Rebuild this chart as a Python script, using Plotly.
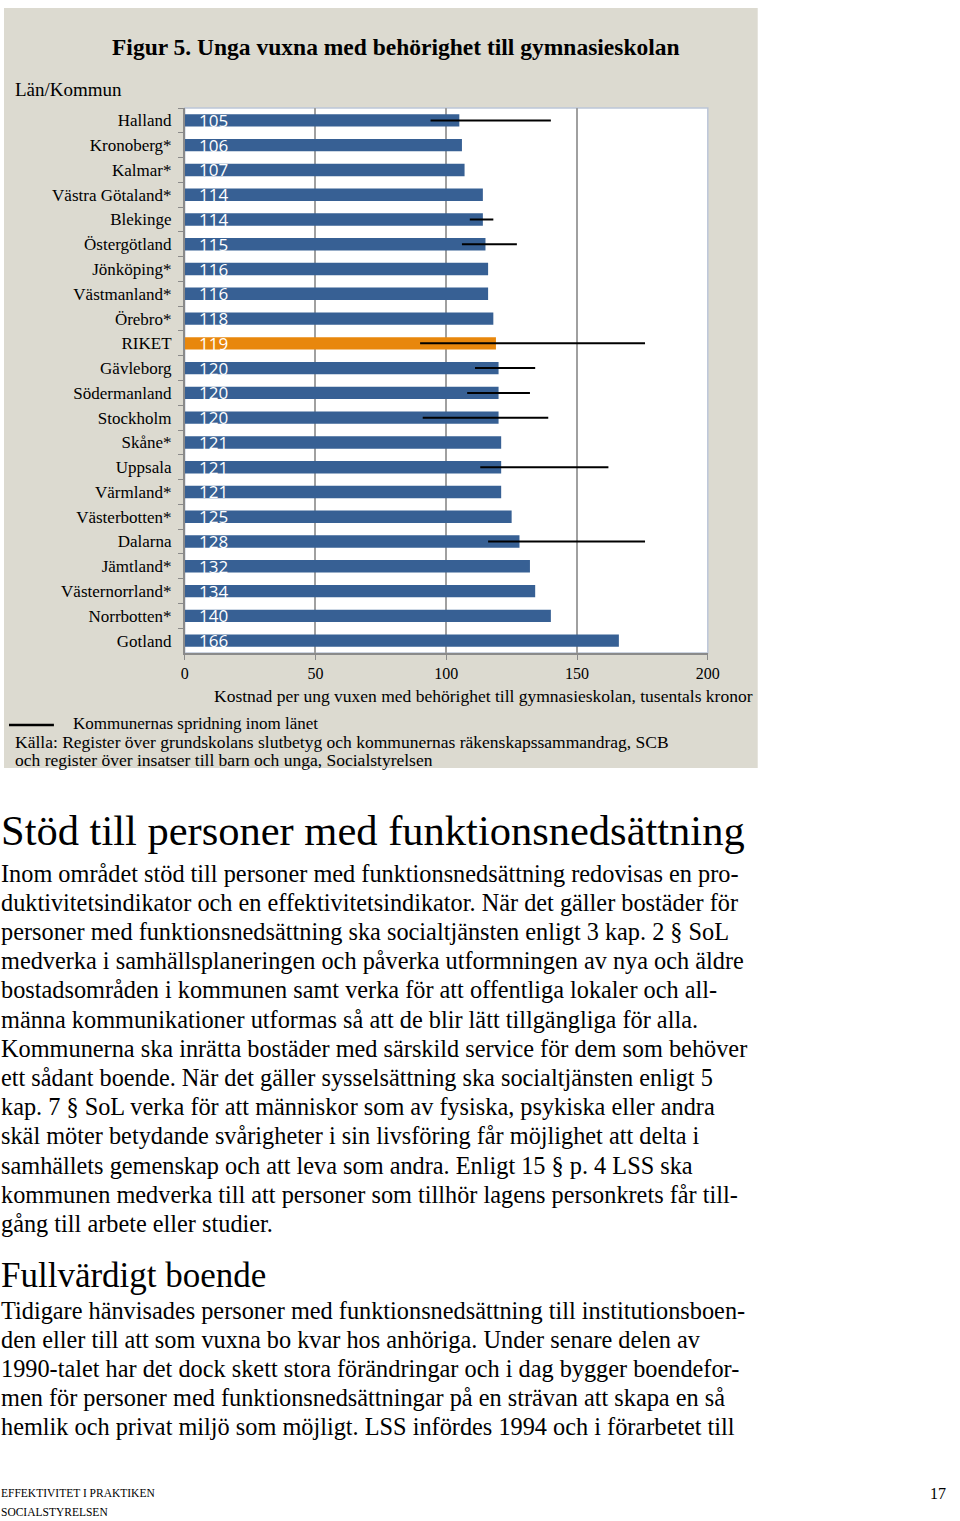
import plotly.graph_objects as go

# ---------------- data ----------------
regions = ["Halland", "Kronoberg*", "Kalmar*", "Västra Götaland*", "Blekinge",
           "Östergötland", "Jönköping*", "Västmanland*", "Örebro*", "RIKET",
           "Gävleborg", "Södermanland", "Stockholm", "Skåne*", "Uppsala",
           "Värmland*", "Västerbotten*", "Dalarna", "Jämtland*", "Västernorrland*",
           "Norrbotten*", "Gotland"]
costs = [105, 106, 107, 114, 114, 115, 116, 116, 118, 119,
         120, 120, 120, 121, 121, 121, 125, 128, 132, 134, 140, 166]
spread_low = [94, None, None, None, 109, 106, None, None, None, 90,
              111, 108, 91, None, 113, None, None, 116, None, None, None, None]
spread_high = [140, None, None, None, 118, 127, None, None, None, 176,
               134, 132, 139, None, 162, None, None, 176, None, None, None, None]
x_ticks = [0, 50, 100, 150, 200]

W, H = 960, 1521
BLUE = "#376094"
ORANGE = "#e8870c"
PANEL = "#dcdad0"
SERIF = "Liberation Serif"

# horizontal calibration of the page (screen x ~= X0 + XS * paper px)
X0, XS = 3.0, 0.985


def px(x, clamp=False):
    v = (x - X0) / (XS * W)
    if clamp:
        v = min(1.0, max(0.0, v))
    return v


def py(y):
    return 1 - y / H


bar_colors = [ORANGE if r == "RIKET" else BLUE for r in regions]

fig = go.Figure()
fig.add_trace(go.Bar(
    x=costs, y=regions, orientation="h",
    marker=dict(color=bar_colors, line=dict(width=0)),
    width=0.5, showlegend=False, hoverinfo="x+y",
))

wx, wy = [], []
for r, lo, hi in zip(regions, spread_low, spread_high):
    if lo is None:
        continue
    wx += [lo, hi, None]
    wy += [r, r, None]
fig.add_trace(go.Scatter(x=wx, y=wy, mode="lines",
                         line=dict(color="black", width=2),
                         showlegend=False, hoverinfo="skip"))

annotations = []
# value labels inside bars
for r, v in zip(regions, costs):
    annotations.append(dict(x=0, y=r, xref="x", yref="y", text=str(v),
                            showarrow=False, xanchor="left", yanchor="middle",
                            xshift=12, yshift=0,
                            font=dict(family="Open Sans", size=17, color="white")))


def txt(x, y, s, size, anchor="left", bold=False, family=SERIF, color="black"):
    if bold:
        s = "<b>" + s + "</b>"
    annotations.append(dict(x=px(x, clamp=(anchor == "right")), y=py(y),
                            xref="paper", yref="paper",
                            text=s, showarrow=False, xanchor=anchor,
                            yanchor="middle",
                            font=dict(family=family, size=size, color=color)))


# chart texts
txt(396, 47, "Figur 5. Unga vuxna med behörighet till gymnasieskolan", 23.5,
    anchor="center", bold=True)
txt(12, 89, "Län/Kommun", 19)
txt(755, 696, "Kostnad per ung vuxen med behörighet till gymnasieskolan, tusentals kronor",
    17.5, anchor="right")
txt(70, 723, "Kommunernas spridning inom länet", 17)
txt(12, 742, "Källa: Register över grundskolans slutbetyg och kommunernas räkenskapssammandrag, SCB", 17.5)
txt(12, 760, "och register över insatser till barn och unga, Socialstyrelsen", 17.5)

# page text
LX = -2
txt(LX, 830, "Stöd till personer med funktionsnedsättning", 42.5)
body1 = [
    "Inom området stöd till personer med funktionsnedsättning redovisas en pro-",
    "duktivitetsindikator och en effektivitetsindikator. När det gäller bostäder för",
    "personer med funktionsnedsättning ska socialtjänsten enligt 3 kap. 2 § SoL",
    "medverka i samhällsplaneringen och påverka utformningen av nya och äldre",
    "bostadsområden i kommunen samt verka för att offentliga lokaler och all-",
    "männa kommunikationer utformas så att de blir lätt tillgängliga för alla.",
    "Kommunerna ska inrätta bostäder med särskild service för dem som behöver",
    "ett sådant boende. När det gäller sysselsättning ska socialtjänsten enligt 5",
    "kap. 7 § SoL verka för att människor som av fysiska, psykiska eller andra",
    "skäl möter betydande svårigheter i sin livsföring får möjlighet att delta i",
    "samhällets gemenskap och att leva som andra. Enligt 15 § p. 4 LSS ska",
    "kommunen medverka till att personer som tillhör lagens personkrets får till-",
    "gång till arbete eller studier.",
]
for i, line in enumerate(body1):
    txt(LX, 873 + i * 29.2, line, 24.3)

txt(LX, 1275, "Fullvärdigt boende", 35)
body2 = [
    "Tidigare hänvisades personer med funktionsnedsättning till institutionsboen-",
    "den eller till att som vuxna bo kvar hos anhöriga. Under senare delen av",
    "1990-talet har det dock skett stora förändringar och i dag bygger boendefor-",
    "men för personer med funktionsnedsättningar på en strävan att skapa en så",
    "hemlik och privat miljö som möjligt. LSS infördes 1994 och i förarbetet till",
]
for i, line in enumerate(body2):
    txt(LX, 1310 + i * 29.2, line, 24.3)

txt(LX, 1493, "EFFEKTIVITET I PRAKTIKEN", 11.5)
txt(LX, 1512, "SOCIALSTYRELSEN", 11.5)
txt(960, 1493, "17", 16, anchor="right")

shapes = [
    # gray chart panel
    dict(type="rect", xref="paper", yref="paper", layer="below",
         x0=0, x1=px(758, True), y0=py(768), y1=py(8),
         fillcolor=PANEL, line=dict(width=0)),
    # plot area border
    dict(type="rect", xref="x domain", yref="y domain", layer="below",
         x0=0, x1=1, y0=0, y1=1, fillcolor="white",
         line=dict(color="#bcc6d8", width=1.5)),
    # legend line sample
    dict(type="line", xref="paper", yref="paper",
         x0=px(8, True), x1=px(53, True), y0=py(725), y1=py(725),
         line=dict(color="black", width=2.5)),
]

fig.update_layout(
    width=W, height=H,
    margin=dict(l=0, r=0, t=0, b=0),
    paper_bgcolor="white",
    plot_bgcolor="rgba(0,0,0,0)",
    bargap=0.5,
    annotations=annotations,
    shapes=shapes,
    xaxis=dict(domain=[px(184, True), px(708, True)], range=[0, 200],
               tickvals=x_ticks, ticktext=[str(t) for t in x_ticks],
               showgrid=True, gridcolor="#a0a0a0", gridwidth=1.5,
               zeroline=False, showline=True, linecolor="#8a8a8a", linewidth=1.5,
               ticks="outside", ticklen=5, tickcolor="#8a8a8a",
               tickfont=dict(family=SERIF, size=16, color="black"),
               fixedrange=True),
    yaxis=dict(domain=[py(653), py(108)],
               range=[len(regions) - 0.5, -0.5], autorange=False,
               categoryorder="array", categoryarray=regions,
               showline=True, linecolor="#8a8a8a", linewidth=1.5,
               ticks="outside", ticklen=5, tickcolor="#8a8a8a",
               tickson="boundaries", showgrid=False,
               tickfont=dict(family=SERIF, size=17, color="black"),
               ticklabelstandoff=8, fixedrange=True),
)

fig.write_html(
    "out.html",
    config={"displayModeBar": False},
    post_script="document.body.style.margin='0';"
                "document.body.style.padding='0';"
                "document.body.style.overflow='hidden';"
                "document.documentElement.style.overflow='hidden';",
)
